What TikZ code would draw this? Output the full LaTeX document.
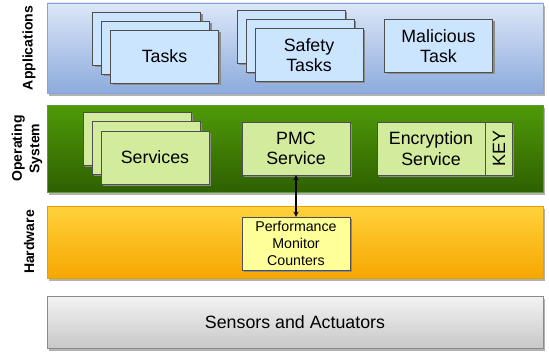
\documentclass[tikz,border=0pt]{standalone}
\usepackage{fontspec}
\setmainfont{Liberation Sans}
\usepackage{xcolor}
\usetikzlibrary{arrows,calc,positioning,shadows}
\definecolor{appTop}{HTML}{DCE7F8}
\definecolor{appBot}{HTML}{8CABDC}
\definecolor{appLine}{HTML}{86A5D6}
\definecolor{taskFill}{HTML}{CCE5FF}
\definecolor{osTop}{HTML}{4F9A08}
\definecolor{osBot}{HTML}{2E6000}
\definecolor{osLine}{HTML}{5E9A3C}
\definecolor{svcFill}{HTML}{D2EB9C}
\definecolor{hwTop}{HTML}{FFD33C}
\definecolor{hwBot}{HTML}{F7A600}
\definecolor{hwLine}{HTML}{E3A000}
\definecolor{ctrFill}{HTML}{FFFF99}
\definecolor{senTop}{HTML}{F3F3F3}
\definecolor{senBot}{HTML}{C8C8C8}
\definecolor{senLine}{HTML}{8A8A8A}
\definecolor{boxLine}{HTML}{4F4F4F}
\tikzset{%
	band/.style     = {draw, rectangle, minimum width=496pt, inner sep=0pt,
	                   drop shadow={shadow xshift=2pt, shadow yshift=-3pt, fill=black!30, opacity=1}},
	side/.style     = {rotate=90, align=center, font=\fontsize{14}{17.5}\bfseries\selectfont},
	box/.style      = {draw=boxLine, rectangle, minimum width=108pt, minimum height=53pt, inner sep=0pt, align=center,
	                   drop shadow={shadow xshift=2pt, shadow yshift=-2pt, fill=black!45, opacity=1}},
	task/.style     = {box, fill=taskFill}, % Application task
	svc/.style      = {box, fill=svcFill}, % OS service
	ctr/.style      = {box, fill=ctrFill, font=\fontsize{14.2}{17}\selectfont}, % Counters
	arrow/.style    = {line width=1.3pt, <->, >=stealth},
}
\begin{document}
\begin{tikzpicture}[x=1pt, y=-1pt, font=\fontsize{17.8}{20.5}\selectfont]
	\useasboundingbox (0,0) rectangle (549,353);
	% layers
	\node[band, draw=appLine, top color=appTop, bottom color=appBot, minimum height=90pt] (app) at (295,48) {};
	\node[band, draw=osLine, top color=osTop, bottom color=osBot, minimum height=87pt] (os) at (295,148.5) {};
	\node[band, draw=hwLine, top color=hwTop, bottom color=hwBot, minimum height=72pt] (hw) at (295,242) {};
	\node[band, draw=senLine, top color=senTop, bottom color=senBot, minimum height=52pt] (sen) at (295,322) {Sensors and Actuators};
	\node[side] (applbl) at (29,48) {Applications};
	\node[side] (oslbl) at (27,148.5) {Operating\\System};
	\node[side] (hwlbl) at (29,242) {Hardware};
	
	% applications
	\node[task] (tasks3) at (146.5,38.5) {};
	\node[task] (tasks2) at (155.5,47.5) {};
	\node[task] (tasks) at (164.5,56.5) {Tasks};
	\node[task] (safe3) at (291,37) {};
	\node[task] (safe2) at (300,46) {};
	\node[task] (safe) at (309,55) {Safety\\Tasks};
	\node[task] (mal) at (438.5,46) {Malicious\\Task};
	
	% operating system
	\node[svc] (svc3) at (137,138.5) {};
	\node[svc] (svc2) at (146,147.5) {};
	\node[svc] (svc) at (155,157.5) {Services};
	\node[svc] (pmc) at (296,148.5) {PMC\\Service};
	\node[svc] (enc) at (431,148.5) {Encryption\\Service};
	\node[svc, minimum width=27pt, anchor=west] (key) at (enc.east) {\rotatebox{90}{KEY}};
	
	% hardware
	\node[ctr] (ctr) at (296,243.5) {Performance\\Monitor\\Counters};
	\draw[arrow] (pmc.south) -- (pmc.south |- ctr.north);
\end{tikzpicture}
\end{document}
